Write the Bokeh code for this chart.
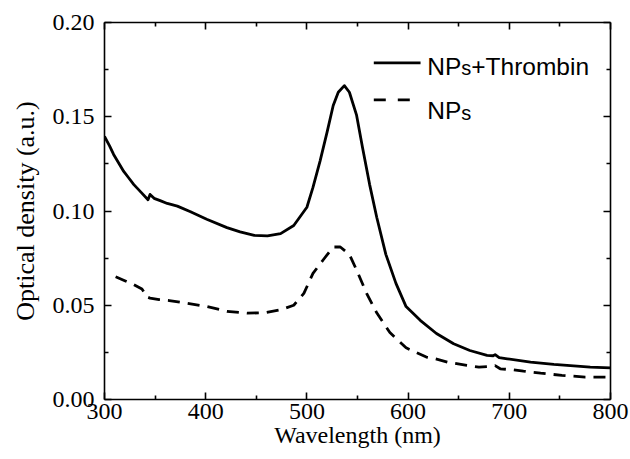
from bokeh.plotting import figure
from bokeh.models import FixedTicker, LinearAxis, Range1d, Label
from bokeh.embed import file_html
from bokeh.resources import INLINE

# ---- data ----
wl_thrombin = [300, 305, 309, 314, 319, 324, 329, 336, 343, 345, 349, 355, 362, 372,
               385, 401, 421, 434, 448, 461, 474, 487, 500, 506, 513, 520, 526, 531,
               537, 542, 549, 555, 562, 569, 578, 588, 598, 612, 628, 645, 661, 678,
               684, 686, 690, 698, 721, 744, 780, 800]
od_thrombin = [0.1396, 0.1345, 0.130, 0.1255, 0.121, 0.1175, 0.114, 0.110, 0.106, 0.1088,
               0.1067, 0.1055, 0.104, 0.1026, 0.0996, 0.0956, 0.0912, 0.0889, 0.0871,
               0.0868, 0.088, 0.0923, 0.102, 0.1125, 0.1265, 0.142, 0.156, 0.163, 0.1665,
               0.163, 0.151, 0.1335, 0.114, 0.0967, 0.077, 0.0616, 0.0493, 0.042, 0.035,
               0.0296, 0.026, 0.0234, 0.0232, 0.0238, 0.0222, 0.0216, 0.0198, 0.0186,
               0.0172, 0.0168]

wl_nps = [311, 320, 329, 337, 339, 341, 345, 354, 364, 382, 401, 421, 441, 458, 474,
          487, 497, 506, 516, 526, 533, 542, 549, 559, 569, 582, 598, 618, 627, 640,
          658, 670, 681, 686, 691, 704, 714, 731, 752, 775, 800]
od_nps = [0.0651, 0.063, 0.0609, 0.0586, 0.057, 0.0546, 0.0538, 0.053, 0.0525, 0.051,
          0.0493, 0.0468, 0.0458, 0.046, 0.0476, 0.050, 0.0563, 0.0669, 0.074, 0.0809,
          0.0809, 0.077, 0.0688, 0.0563, 0.046, 0.0355, 0.0274, 0.0225, 0.0216, 0.0197,
          0.0181, 0.0172, 0.0175, 0.018, 0.0163, 0.0157, 0.015, 0.014, 0.0128, 0.0119,
          0.0118]

x_ticks = [300, 400, 500, 600, 700, 800]
x_minor_ticks = [350, 450, 550, 650, 750]
y_ticks = [0.0, 0.05, 0.10, 0.15, 0.20]
y_tick_labels = ["0.00", "0.05", "0.10", "0.15", "0.20"]
y_minor_ticks = [0.025, 0.075, 0.125, 0.175]
x_title = "Wavelength (nm)"
y_title = "Optical density (a.u.)"
legend_parts = ["NP", "s", "+Thrombin"]

SERIF = "Liberation Serif"
SANS = "Liberation Sans"

p = figure(width=630, height=459,
           x_range=Range1d(300, 800), y_range=Range1d(0, 0.2),
           output_backend="svg", toolbar_location=None,
           min_border_left=104, min_border_right=20,
           min_border_top=22, min_border_bottom=60)
p.grid.visible = False
p.outline_line_color = None
p.background_fill_color = "white"
p.border_fill_color = "white"

xt = FixedTicker(ticks=x_ticks, minor_ticks=x_minor_ticks)
yt = FixedTicker(ticks=y_ticks, minor_ticks=y_minor_ticks)


def style(ax):
    ax.axis_line_width = 1.6
    ax.axis_line_color = "black"
    ax.major_tick_in = 7
    ax.major_tick_out = 0
    ax.minor_tick_in = 4
    ax.minor_tick_out = 0
    ax.major_tick_line_width = 1.6
    ax.minor_tick_line_width = 1.6
    ax.major_tick_line_color = "black"
    ax.minor_tick_line_color = "black"
    ax.major_label_text_font = SERIF
    ax.major_label_text_font_size = "24px"
    ax.major_label_text_color = "black"
    ax.axis_label_text_font = SERIF
    ax.axis_label_text_font_size = "24px"
    ax.axis_label_text_font_style = "normal"
    ax.axis_label_text_color = "black"


xa = p.xaxis[0]
xa.ticker = xt
xa.axis_label = x_title
style(xa)
xa.major_label_standoff = 4
xa.axis_label_standoff = 0

ya = p.yaxis[0]
ya.ticker = yt
ya.axis_label = y_title
ya.major_label_overrides = {t: s for t, s in zip(y_ticks, y_tick_labels)}
style(ya)
ya.axis_label_text_font_size = "26px"
ya.major_label_standoff = 10
ya.axis_label_standoff = 10

top = LinearAxis(ticker=xt)
style(top)
top.major_label_overrides = {t: "" for t in x_ticks}
top.major_label_text_font_size = "1px"
top.major_label_standoff = 0
p.add_layout(top, "above")
right = LinearAxis(ticker=yt)
style(right)
right.major_label_overrides = {t: "" for t in y_ticks}
right.major_label_text_font_size = "1px"
right.major_label_standoff = 0
p.add_layout(right, "right")

p.line(wl_thrombin, od_thrombin, line_color="black", line_width=2.8, line_join="round")
p.line(wl_nps, od_nps, line_color="black", line_width=2.8, line_dash="12 8")

# legend (manual, to get the lowered "s")
leg_x0, leg_x1 = 566.1, 612.3
leg_y = [0.1786, 0.1590]
txt_x = 618.9
txt_y = [0.1767, 0.1531]
p.line([leg_x0, leg_x1], [leg_y[0]] * 2, line_color="black", line_width=2.8)
p.line([leg_x0, leg_x1], [leg_y[1]] * 2, line_color="black", line_width=2.8, line_dash="12 12")

for row, with_thrombin in ((0, True), (1, False)):
    p.add_layout(Label(x=txt_x, y=txt_y[row], text=legend_parts[0], text_font=SANS,
                       text_font_size="24.5px", text_baseline="alphabetic", text_color="black"))
    p.add_layout(Label(x=txt_x, y=txt_y[row], x_offset=34, y_offset=-2, text=legend_parts[1],
                       text_font=SANS, text_font_size="20px", text_baseline="alphabetic",
                       text_color="black"))
    if with_thrombin:
        p.add_layout(Label(x=txt_x, y=txt_y[row], x_offset=44, text=legend_parts[2],
                           text_font=SANS, text_font_size="24.5px", text_baseline="alphabetic",
                           text_color="black"))

open("out.html", "w").write(file_html(p, INLINE))
